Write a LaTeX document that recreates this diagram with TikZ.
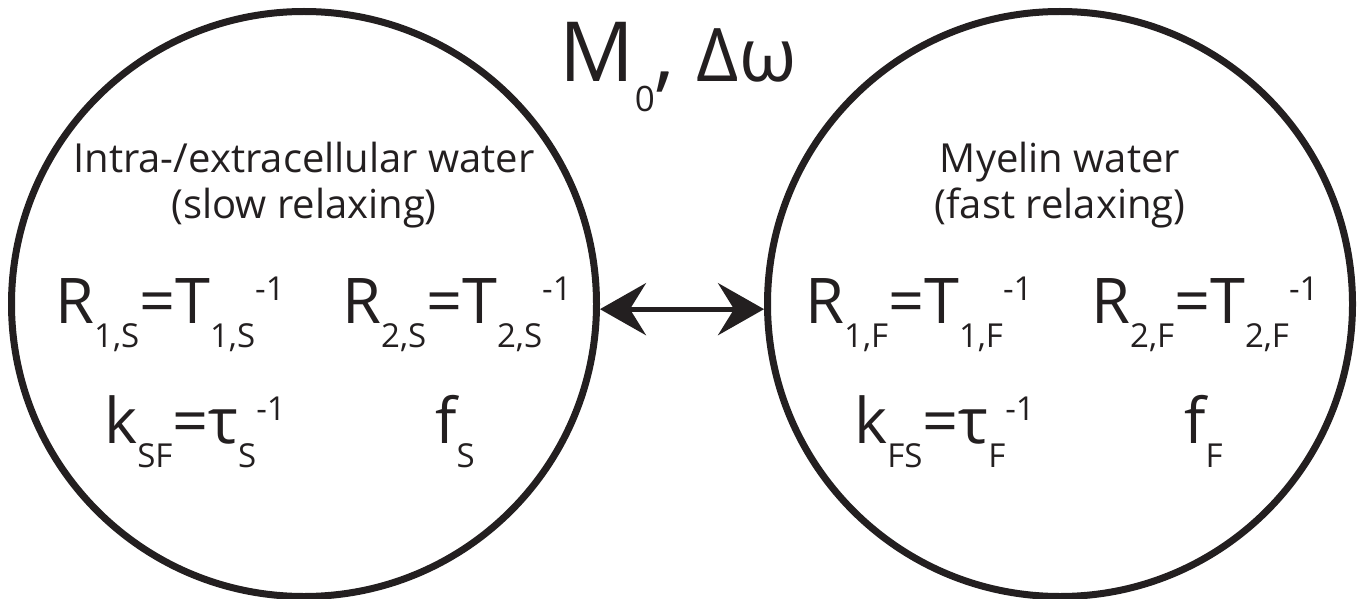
\documentclass[tikz,border=0pt]{standalone}
\usepackage{fontspec}
\setmainfont{Open Sans}
\usetikzlibrary{arrows.meta,positioning}
\definecolor{ink}{HTML}{231F20}

% lowered and raised indices, set as plain text
\newcommand{\subtx}[1]{\raisebox{-24pt}{\fontsize{33}{33}\selectfont #1}}
\newcommand{\suptx}[1]{\raisebox{23pt}{\fontsize{33}{33}\selectfont #1}}

\begin{document}
\begin{tikzpicture}[
			x=1pt, y=-1pt,
			pool/.style={circle, draw=ink, line width=7pt, minimum size=585pt, inner sep=0pt},
			head/.style={text=ink, font=\fontsize{40}{46}\selectfont, anchor=base, inner sep=0pt},
			eqn/.style={text=ink, font=\fontsize{63}{70}\selectfont, anchor=base west, inner sep=0pt},
			xchg/.style={<->, draw=ink, line width=5pt, >={Stealth[length=46pt, width=52pt, inset=16pt]}}
		]
		\useasboundingbox (0,0) rectangle (1360,599);

		\node[pool] (slow) at (304,304) {};
		\node[pool] (fast) at (1060,304) {};

		\node[text=ink, anchor=base, inner sep=0pt, font=\fontsize{83}{90}\selectfont] (title) at (678,82)
			{M\raisebox{-30pt}{\fontsize{35}{35}\selectfont 0}, {\fontsize{74}{74}\selectfont Δω}};

		\node[head] (sname) at (304,172) {Intra-/extracellular water};
		\node[head] (skind) at (304,218) {(slow relaxing)};
		\node[head] (fname) at (1060,172) {Myelin water};
		\node[head] (fkind) at (1060,218) {(fast relaxing)};

		\node[eqn] (r1s) at (55,323) {R\subtx{1,S}=T\subtx{1,S}\suptx{-1}};
		\node[eqn] (r2s) at (342,323) {R\subtx{2,S}=T\subtx{2,S}\suptx{-1}};
		\node[eqn] (ksf) at (104,443) {k\subtx{SF}=τ\subtx{S}\suptx{-1}};
		\node[eqn] (fs) at (435,443) {f\subtx{S}};

		\node[eqn] (r1f) at (805,323) {R\subtx{1,F}=T\subtx{1,F}\suptx{-1}};
		\node[eqn] (r2f) at (1091,323) {R\subtx{2,F}=T\subtx{2,F}\suptx{-1}};
		\node[eqn] (kfs) at (854,443) {k\subtx{FS}=τ\subtx{F}\suptx{-1}};
		\node[eqn] (ff) at (1184,443) {f\subtx{F}};

		\draw[xchg] (slow.-1.8) -- (fast.181.8);
	\end{tikzpicture}
\end{document}
